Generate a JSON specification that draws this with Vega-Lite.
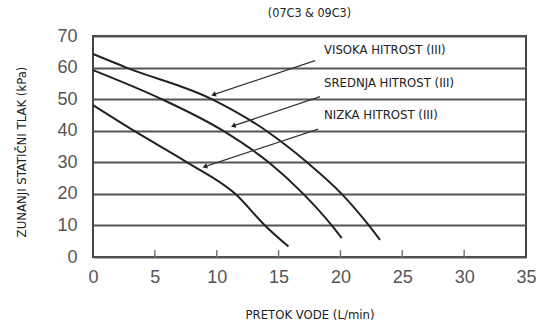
{
  "$schema": "https://vega.github.io/schema/vega-lite/v6.json",
  "width": 433,
  "height": 221,
  "autosize": "none",
  "padding": {"left": 93, "top": 36, "right": 16, "bottom": 63},
  "background": "white",
  "config": {
    "view": {"stroke": "#444", "strokeWidth": 2},
    "font": "DejaVu Sans Condensed"
  },
  "title": {
    "text": "(07C3 & 09C3)",
    "font": "DejaVu Sans Condensed",
    "fontSize": 12.5,
    "fontWeight": "normal",
    "color": "#222",
    "anchor": "middle",
    "frame": "group",
    "baseline": "alphabetic",
    "offset": -2
  },
  "datasets": {
    "curves": [
      {"s": "Visoka", "x": 0, "y": 64.3},
      {"s": "Visoka", "x": 2.7, "y": 60},
      {"s": "Visoka", "x": 9.6, "y": 50},
      {"s": "Visoka", "x": 14, "y": 40},
      {"s": "Visoka", "x": 17.3, "y": 30},
      {"s": "Visoka", "x": 20.1, "y": 20},
      {"s": "Visoka", "x": 22.3, "y": 10},
      {"s": "Visoka", "x": 23.2, "y": 5.4},
      {"s": "Srednja", "x": 0, "y": 59.2},
      {"s": "Srednja", "x": 5.55, "y": 50},
      {"s": "Srednja", "x": 10.5, "y": 40},
      {"s": "Srednja", "x": 14.2, "y": 30},
      {"s": "Srednja", "x": 17, "y": 20},
      {"s": "Srednja", "x": 19.3, "y": 10},
      {"s": "Srednja", "x": 20.1, "y": 6},
      {"s": "Nizka", "x": 0, "y": 48.1},
      {"s": "Nizka", "x": 3.3, "y": 40},
      {"s": "Nizka", "x": 7.6, "y": 30},
      {"s": "Nizka", "x": 11.5, "y": 20},
      {"s": "Nizka", "x": 13.9, "y": 10},
      {"s": "Nizka", "x": 15.8, "y": 3.3}
    ],
    "labels": [
      {"label": "VISOKA HITROST (III)", "lx": 18.67, "ly": 65.6, "tx": 17.95, "ty": 62.2, "hx": 9.8, "hy": 51.5},
      {"label": "SREDNJA HITROST (III)", "lx": 18.67, "ly": 55.2, "tx": 18.35, "ty": 50.8, "hx": 11.4, "hy": 41.6},
      {"label": "NIZKA HITROST (III)", "lx": 18.67, "ly": 45.0, "tx": 18.2, "ty": 40.5, "hx": 9.1, "hy": 28.7}
    ],
    "xticks": [
      {"v": 5}, {"v": 10}, {"v": 15}, {"v": 20}, {"v": 25}, {"v": 30}
    ]
  },
  "layer": [
    {
      "data": {"name": "curves"},
      "mark": {"type": "line", "interpolate": "monotone", "color": "#222", "strokeWidth": 2},
      "encoding": {
        "x": {
          "field": "x", "type": "quantitative",
          "scale": {"domain": [0, 35], "nice": false},
          "axis": {
            "values": [0, 5, 10, 15, 20, 25, 30, 35],
            "tickCount": 20,
            "title": "PRETOK VODE (L/min)",
            "titleFont": "DejaVu Sans Condensed",
            "titleFontSize": 13,
            "titleFontWeight": "normal",
            "titleColor": "#222",
            "titleY": 61,
            "titleBaseline": "alphabetic",
            "labelFont": "Liberation Sans",
            "labelFontSize": 18,
            "labelColor": "#555",
            "labelPadding": 11,
            "labelFlush": false,
            "labelOverlap": false,
            "ticks": false,
            "domain": false,
            "grid": false
          }
        },
        "y": {
          "field": "y", "type": "quantitative",
          "scale": {"domain": [0, 70], "nice": false},
          "axis": {
            "values": [0, 10, 20, 30, 40, 50, 60, 70],
            "tickCount": 20,
            "title": "ZUNANJI STATIČNI TLAK (kPa)",
            "titleFont": "DejaVu Sans Condensed",
            "titleFontSize": 13,
            "titleFontWeight": "normal",
            "titleColor": "#222",
            "titleX": -68,
            "titleY": 115.5,
            "titleAlign": "center",
            "titleBaseline": "alphabetic",
            "labelFont": "Liberation Sans",
            "labelFontSize": 18,
            "labelColor": "#555",
            "labelPadding": 16,
            "labelOverlap": false,
            "ticks": false,
            "domain": false,
            "grid": true,
            "gridColor": "#555",
            "gridWidth": 2
          }
        },
        "detail": {"field": "s"}
      }
    },
    {
      "data": {"name": "xticks"},
      "mark": {"type": "rule", "color": "#777", "strokeWidth": 1.5},
      "encoding": {
        "x": {"field": "v", "type": "quantitative"},
        "y": {"datum": 0},
        "y2": {"datum": 2.2}
      }
    },
    {
      "data": {"name": "labels"},
      "mark": {"type": "rule", "color": "#333", "strokeWidth": 1.2},
      "encoding": {
        "x": {"field": "tx", "type": "quantitative"},
        "y": {"field": "ty", "type": "quantitative"},
        "x2": {"field": "hx"},
        "y2": {"field": "hy"}
      }
    },
    {
      "data": {"name": "labels"},
      "mark": {"type": "point", "shape": "triangle", "angle": 251.5, "filled": true, "color": "#222", "size": 30, "opacity": 1},
      "encoding": {
        "x": {"field": "hx", "type": "quantitative"},
        "y": {"field": "hy", "type": "quantitative"}
      }
    },
    {
      "data": {"name": "labels"},
      "mark": {"type": "text", "align": "left", "baseline": "middle", "font": "DejaVu Sans Condensed", "fontSize": 13, "color": "#222"},
      "encoding": {
        "x": {"field": "lx", "type": "quantitative"},
        "y": {"field": "ly", "type": "quantitative"},
        "text": {"field": "label"}
      }
    }
  ]
}
